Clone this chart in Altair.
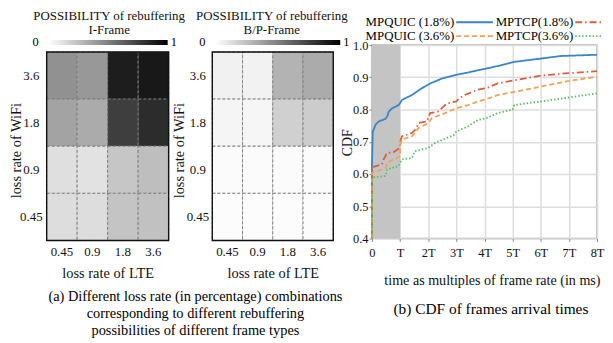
import altair as alt
import pandas as pd

FONT = "Liberation Serif"

# ---------------- data ----------------
lte_rates = ["0.45", "0.9", "1.8", "3.6"]
wifi_rates = ["3.6", "1.8", "0.9", "0.45"]  # top to bottom

# rows: wifi 3.6, 1.8, 0.9, 0.45 ; columns: lte 0.45, 0.9, 1.8, 3.6
iframe_prob = [
    [0.40, 0.37, 0.89, 0.92],
    [0.33, 0.30, 0.74, 0.82],
    [0.11, 0.10, 0.20, 0.23],
    [0.12, 0.12, 0.21, 0.22],
]
bp_prob = [
    [0.050, 0.045, 0.27, 0.30],
    [0.035, 0.030, 0.165, 0.18],
    [0.015, 0.015, 0.015, 0.015],
    [0.012, 0.012, 0.012, 0.012],
]
colorbar_ends = [0, 1]

series_names = ["MPQUIC (1.8%)", "MPTCP(1.8%)", "MPQUIC (3.6%)", "MPTCP(3.6%)"]
series_colors = ["#3a85c8", "#d9603f", "#f2a055", "#5bbd5b"]
series_dash = [[1, 0], [7, 3, 1.5, 3], [5, 3], [1.5, 2]]

mpquic18_t = [0, 0, 0.03, 0.13, 0.24, 0.48, 0.55, 0.6, 0.72, 0.95, 1.0, 1.07, 1.42, 1.77, 2.07, 2.48,
              2.95, 3.42, 3.77, 4.06, 4.47, 5.06, 6.0, 6.7, 8.0]
mpquic18_v = [0.40, 0.62, 0.732, 0.753, 0.763, 0.771, 0.78, 0.794, 0.804, 0.814, 0.82, 0.83, 0.845, 0.866,
              0.881, 0.896, 0.907, 0.915, 0.922, 0.927, 0.935, 0.948, 0.958, 0.966, 0.970]

mptcp18_t = [0, 0, 0.36, 0.41, 0.48, 0.52, 0.77, 1.0, 1.0, 1.07, 1.42, 1.53, 1.6, 1.65, 1.95, 2.0, 2.07,
             2.36, 2.55, 2.66, 3.0, 3.1, 3.3, 3.77, 4.06, 4.47, 5.06, 6.0, 6.83, 8.0]
mptcp18_v = [0.40, 0.621, 0.630, 0.645, 0.655, 0.665, 0.668, 0.681, 0.70, 0.717, 0.727, 0.737, 0.745,
             0.758, 0.763, 0.775, 0.789, 0.794, 0.81, 0.819, 0.825, 0.835, 0.845, 0.862, 0.866, 0.881,
             0.891, 0.905, 0.912, 0.919]

mpquic36_t = [0, 0, 0.36, 0.5, 0.54, 1.0, 1.0, 1.07, 1.42, 1.55, 1.65, 2.0, 2.13, 2.6, 3.0, 3.42, 3.77,
              4.06, 4.47, 5.06, 6.0, 6.83, 8.0]
mpquic36_v = [0.40, 0.604, 0.614, 0.62, 0.635, 0.655, 0.69, 0.707, 0.717, 0.73, 0.742, 0.758, 0.773,
              0.789, 0.804, 0.814, 0.825, 0.832, 0.845, 0.855, 0.871, 0.886, 0.902]

mptcp36_t = [0, 0, 0.48, 0.54, 0.95, 1.0, 1.07, 1.42, 1.53, 2.0, 2.24, 2.66, 2.9, 3.0, 3.42, 3.77, 4.06,
             4.47, 5.0, 5.06, 6.0, 6.83, 8.0]
mptcp36_v = [0.40, 0.589, 0.594, 0.614, 0.625, 0.635, 0.645, 0.650, 0.671, 0.681, 0.696, 0.712, 0.72,
             0.732, 0.748, 0.768, 0.773, 0.789, 0.80, 0.814, 0.825, 0.835, 0.850]

shade_interval = [0, 1]   # 0 .. T
x_ticks = [0, 1, 2, 3, 4, 5, 6, 7, 8]
y_ticks = [0.4, 0.5, 0.6, 0.7, 0.8, 0.9, 1.0]

caption_a = ["(a)  Different loss rate (in percentage) combinations",
             "corresponding to different rebuffering",
             "possibilities  of different frame types"]
caption_b = "(b) CDF of frames arrival times"

# ---------------- heatmaps ----------------
HM_H = 197
HM_TOP = 7
gradient = {"gradient": "linear", "x1": 0, "x2": 1, "y1": 0, "y2": 0,
            "stops": [{"offset": 0, "color": "#ffffff"}, {"offset": 1, "color": "#000000"}]}


def heatmap(values, title_lines, cb_range, width, view_width, ytitle_x, ylabel_pad, title_dx,
            caption=None):
    rows = []
    for i, w in enumerate(wifi_rates):
        for j, l in enumerate(lte_rates):
            rows.append({"wifi": w, "lte": l, "p": values[i][j]})
    df = pd.DataFrame(rows)

    cells = alt.Chart(df).mark_rect(stroke="#7a7a7a", strokeDash=[3, 2], strokeWidth=0.9).encode(
        x=alt.X("lte:O", sort=lte_rates,
                scale=alt.Scale(range=[0, width], paddingInner=0, paddingOuter=0),
                axis=alt.Axis(title="loss rate of LTE", labelAngle=0, ticks=False, tickSize=0,
                              domain=False, labelPadding=5, labelFontSize=13, labelOverlap=False,
                              titleFontSize=14.5, titleY=33, titleX=width / 2, titleBaseline="middle")),
        y=alt.Y("wifi:O", sort=wifi_rates,
                scale=alt.Scale(range=[HM_TOP, HM_H], paddingInner=0, paddingOuter=0),
                axis=alt.Axis(title="loss rate of  WiFi", ticks=False, tickSize=0, domain=False,
                              labelPadding=ylabel_pad, labelAlign="center", labelFontSize=13,
                              titleFontSize=14.5, titleX=ytitle_x, titleY=106,
                              titleBaseline="middle")),
        color=alt.Color("p:Q", scale=alt.Scale(domain=[0, 1], range=["#ffffff", "#000000"]), legend=None),
    )
    frame = alt.Chart(pd.DataFrame({"a": [0]})).mark_rect(
        filled=False, stroke="#111", strokeWidth=1.4).encode(
        x=alt.value(0), x2=alt.value(width), y=alt.value(HM_TOP), y2=alt.value(HM_H))

    cb_scale = alt.Scale(domain=[0, 1], range=cb_range)
    cb_df = pd.DataFrame({"lo": [colorbar_ends[0]], "hi": [colorbar_ends[1]]})
    cbar = alt.Chart(cb_df).mark_rect(fill=gradient).encode(
        x=alt.X("lo:Q", scale=cb_scale, axis=None), x2="hi:Q",
        y=alt.value(-5), y2=alt.value(0))
    lab_df = pd.DataFrame({"v": colorbar_ends, "t": [str(v) for v in colorbar_ends]})
    lab0 = alt.Chart(lab_df).transform_filter("datum.v == 0").mark_text(
        align="right", baseline="middle", dx=-10, fontSize=12.5, font=FONT).encode(
        x=alt.X("v:Q", scale=cb_scale, axis=None), y=alt.value(-3), text="t:N")
    lab1 = alt.Chart(lab_df).transform_filter("datum.v == 1").mark_text(
        align="left", baseline="middle", dx=3, fontSize=12.5, font=FONT).encode(
        x=alt.X("v:Q", scale=cb_scale, axis=None), y=alt.value(-3), text="t:N")

    layers = [cells, frame, cbar, lab0, lab1]
    if caption is not None:
        cap = alt.Chart(pd.DataFrame({"a": [0]})).mark_text(
            text=caption, lineHeight=17, align="center", baseline="top", fontSize=14.5, font=FONT).encode(
            x=alt.value(150), y=alt.value(247))
        layers.append(cap)

    return alt.layer(*layers).resolve_scale(x="independent").properties(
        width=view_width, height=HM_H,
        view=alt.ViewBackground(stroke="transparent"),
        title=alt.TitleParams(text=title_lines, fontSize=13, font=FONT, fontWeight="normal",
                              lineHeight=14, frame="group", offset=-1, anchor="start",
                              dx=title_dx, align="center"),
    )


hm1 = heatmap(iframe_prob, ["POSSIBILITY of rebuffering", "I-Frame"], [2, 122], 123, 128,
              -30, 16, 63, caption_a)
hm2 = heatmap(bp_prob, ["POSSIBILITY of rebuffering", "B/P-Frame"], [3, 129], 122, 122,
              -33, 15, 60)

# ---------------- CDF ----------------
CDF_W, CDF_H = 227, 195
all_t = [mpquic18_t, mptcp18_t, mpquic36_t, mptcp36_t]
all_v = [mpquic18_v, mptcp18_v, mpquic36_v, mptcp36_v]
rows = []
for name, ts, vs in zip(series_names, all_t, all_v):
    for k, (t, v) in enumerate(zip(ts, vs)):
        rows.append({"series": name, "t": t, "v": v, "i": k})
cdf_df = pd.DataFrame(rows)

xs = alt.Scale(domain=[0, 8], nice=False)
ys = alt.Scale(domain=[0.4, 1.0], nice=False, zero=False)
color_scale = alt.Scale(domain=series_names, range=series_colors)
dash_scale = alt.Scale(domain=series_names, range=series_dash)

x_axis = alt.Axis(values=x_ticks, grid=True, gridColor="#dedede", gridWidth=1.5,
                  labelExpr="datum.value == 0 ? '0' : (datum.value == 1 ? 'T' : datum.value + 'T')",
                  labelOverlap=False, labelFlush=False,
                  title="time as multiples of frame rate (in ms)", titleFontSize=14.2,
                  titleX=121, titleY=42, titleBaseline="middle",
                  labelFontSize=12.5, tickSize=3, tickColor="#888", labelPadding=5,
                  domain=False)
y_axis = alt.Axis(values=y_ticks, format=".1f", grid=True, gridColor="#dedede", gridWidth=1.5,
                  title="CDF", titleFontSize=14, titleX=-25, titleY=98, titleBaseline="middle",
                  labelFontSize=12.5, tickSize=3, tickColor="#888", labelPadding=1,
                  labelOverlap=False, domain=False)

shade = alt.Chart(pd.DataFrame({"x0": [shade_interval[0]], "x1": [shade_interval[1]]})).mark_rect(
    color="#c4c4c4").encode(
    x=alt.X("x0:Q", scale=xs, axis=x_axis),
    x2="x1:Q",
    y=alt.value(0), y2=alt.value(CDF_H))

lines = alt.Chart(cdf_df).mark_line(strokeWidth=1.8).encode(
    x=alt.X("t:Q", scale=xs, axis=x_axis),
    y=alt.Y("v:Q", scale=ys, axis=y_axis),
    color=alt.Color("series:N", scale=color_scale, legend=None),
    strokeDash=alt.StrokeDash("series:N", scale=dash_scale, legend=None),
    order=alt.Order("i:Q"),
)

legend_layers = []
for idx, name in enumerate(series_names):
    col, row = idx % 2, idx // 2
    tx = 83 + 120 * col
    ty = -23 + 14 * row
    lx1 = tx + 2
    lx2 = min(tx + 39, 231)
    legend_layers.append(
        alt.Chart(pd.DataFrame({"s": [name]})).mark_text(
            align="right", baseline="middle", fontSize=13, font=FONT).encode(
            text="s:N", x=alt.value(tx), y=alt.value(ty)))
    legend_layers.append(
        alt.Chart(pd.DataFrame({"s": [name]})).mark_rule(
            strokeWidth=1.8, color=series_colors[idx], strokeDash=series_dash[idx]).encode(
            x=alt.value(lx1), x2=alt.value(lx2), y=alt.value(ty)))

cap_b = alt.Chart(pd.DataFrame({"s": [caption_b]})).mark_text(
    align="center", baseline="middle", fontSize=15.5, font=FONT).encode(
    text="s:N", x=alt.value(120), y=alt.value(266))

cdf = alt.layer(shade, lines, *legend_layers, cap_b).properties(
    width=CDF_W, height=CDF_H,
    view=alt.ViewBackground(stroke="#aaaaaa", strokeWidth=1.5),
)

chart = alt.hconcat(hm1, hm2, cdf, spacing=39, bounds="flush").properties(
    padding={"left": 0, "top": 0, "right": 0, "bottom": 0}
).configure(font=FONT).configure_axis(
    labelFont=FONT, titleFont=FONT, labelColor="#111", titleColor="#111", titleFontWeight="normal"
).configure_title(font=FONT, color="#111")

chart.save("out.html", embed_options={"renderer": "svg", "actions": False})
